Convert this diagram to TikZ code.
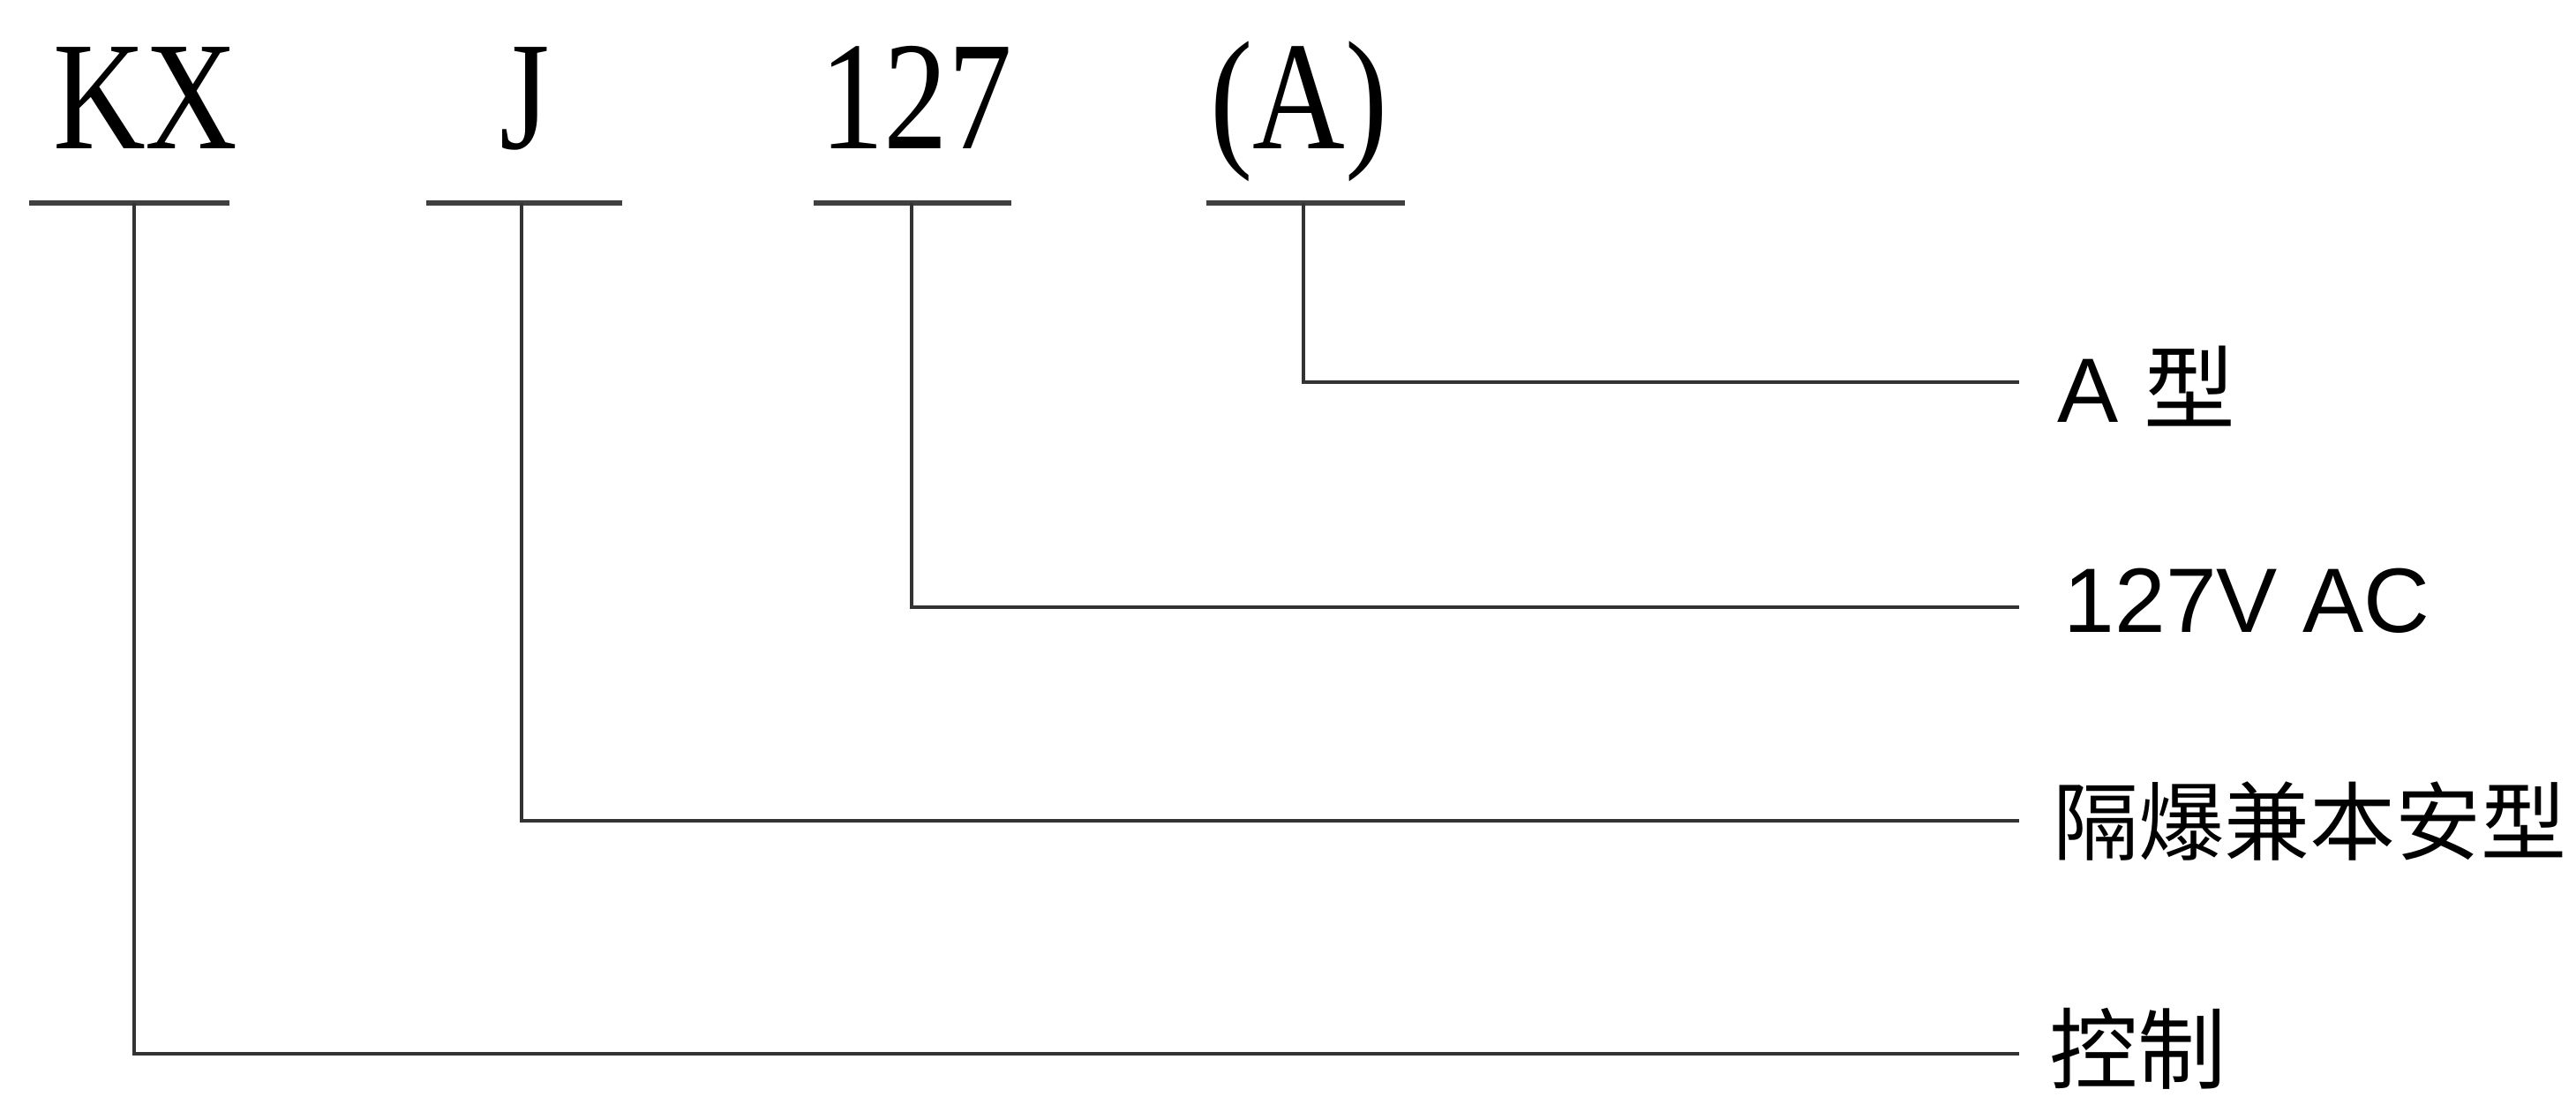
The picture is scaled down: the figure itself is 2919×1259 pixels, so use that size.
\documentclass[tikz,border=0pt]{standalone}
\usepackage{fontspec}
\setmainfont{Liberation Serif}
\setsansfont{Liberation Sans}
\newfontfamily\cjk{Noto Sans CJK SC}
\begin{document}
\begin{tikzpicture}[x=0.1mm,y=-0.1mm,
  code/.style={inner sep=0pt,anchor=base,font=\fontsize{48}{50}\selectfont,xscale=0.86,yscale=1.04},
  lab/.style={inner sep=0pt,anchor=base west,font=\sffamily\fontsize{29.5}{32}\selectfont},
  bar/.style={line width=0.6mm,draw=black!75},
  lead/.style={line width=0.42mm,draw=black!80}]
\useasboundingbox (0,0) rectangle (2919,1259);
% codes
\node[code] (kx) at (165,168) {KX};
\node[code] (j) at (595,168) {J};
\node[code] (n127) at (1038,168) {127};
\node[code] (a) at (1472,168) {(A)};
% bars
\coordinate (kxl) at (33,230); \coordinate (kxr) at (260,230); \coordinate (kxm) at (152,230);
\coordinate (jl) at (483,230); \coordinate (jr) at (705,230); \coordinate (jm) at (591,230);
\coordinate (nl) at (922,230); \coordinate (nr) at (1146,230); \coordinate (nm) at (1033,230);
\coordinate (al) at (1367,230); \coordinate (ar) at (1592,230); \coordinate (am) at (1477,230);
\draw[bar] (kxl) -- (kxr);
\draw[bar] (jl) -- (jr);
\draw[bar] (nl) -- (nr);
\draw[bar] (al) -- (ar);
% labels
\node[lab] (la) at (2331,478) {A {\cjk 型}};
\node[lab] (lv) at (2338,716) {127V AC};
\node[lab] (lj) at (2326,967) {\cjk\fontsize{27.6}{30}\selectfont 隔爆兼本安型};
\node[lab] (lk) at (2322,1226) {\cjk\fontsize{28.5}{30}\selectfont 控制};
% leader ends
\coordinate (ea) at (2288,433);
\coordinate (ev) at (2288,688);
\coordinate (ej) at (2288,930);
\coordinate (ek) at (2288,1194);
\draw[lead] (am) |- (ea);
\draw[lead] (nm) |- (ev);
\draw[lead] (jm) |- (ej);
\draw[lead] (kxm) |- (ek);
\end{tikzpicture}
\end{document}
